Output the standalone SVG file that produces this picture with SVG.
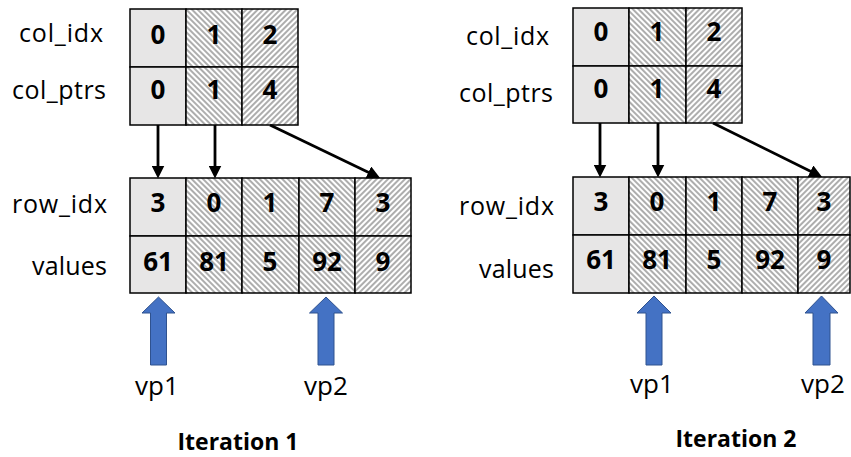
<svg xmlns="http://www.w3.org/2000/svg" width="851" height="457" viewBox="0 0 851 457">
  <style>
    .lbl { font-family: "Open Sans", "Liberation Sans", sans-serif; font-size: 25px; fill: #000; }
    .vp { font-family: "Open Sans", "Liberation Sans", sans-serif; font-size: 26px; fill: #000; text-anchor: middle; }
    .num { font-family: "Open Sans", "Liberation Sans", sans-serif; font-size: 26px; font-weight: bold; fill: #000; text-anchor: middle; }
    .ttl { font-family: "Open Sans", "Liberation Sans", sans-serif; font-size: 23px; font-weight: bold; fill: #000; text-anchor: middle; }
    .plain { fill: #e7e6e6; stroke: #000; stroke-width: 1.5; }
    .hd { fill: url(#hatchDown); stroke: #000; stroke-width: 1.5; }
    .hu { fill: url(#hatchUp); stroke: #000; stroke-width: 1.5; }
    .conn { stroke: #000; stroke-width: 2.8; fill: none; marker-end: url(#head); }
    .ptr { fill: #4472c4; stroke: #2f528f; stroke-width: 1; }
  </style>
  <defs>
    <!-- wide downward diagonal hatch -->
    <pattern id="hatchDown" patternUnits="userSpaceOnUse" width="4" height="4" patternTransform="rotate(-45)">
      <rect width="4" height="4" fill="#fff"/>
      <line x1="1" y1="0" x2="1" y2="4" stroke="#999" stroke-width="1.6"/>
    </pattern>
    <!-- wide upward diagonal hatch -->
    <pattern id="hatchUp" patternUnits="userSpaceOnUse" width="4" height="4" patternTransform="rotate(45)">
      <rect width="4" height="4" fill="#fff"/>
      <line x1="1" y1="0" x2="1" y2="4" stroke="#999" stroke-width="1.6"/>
    </pattern>
    <marker id="head" viewBox="0 0 10 10" refX="6.5" refY="5" markerWidth="13" markerHeight="13" markerUnits="userSpaceOnUse" orient="auto">
      <path d="M0,0 L10,5 L0,10 Z" fill="#000"/>
    </marker>
  </defs>

  <!-- ===== Iteration 1 ===== -->
  <g id="labels-1">
    <text class="lbl" x="19" y="42" textLength="84" lengthAdjust="spacing">col_idx</text>
    <text class="lbl" x="12" y="99" textLength="94" lengthAdjust="spacing">col_ptrs</text>
    <text class="lbl" x="12" y="213" textLength="95" lengthAdjust="spacing">row_idx</text>
    <text class="lbl" x="32" y="275" textLength="75" lengthAdjust="spacing">values</text>
  </g>

  <g id="col-table-1">
    <rect class="plain" x="130" y="9" width="56" height="58"/>
    <rect class="hd" x="186" y="9" width="56" height="58"/>
    <rect class="hu" x="242" y="9" width="56" height="58"/>
    <rect class="plain" x="130" y="67" width="56" height="58"/>
    <rect class="hd" x="186" y="67" width="56" height="58"/>
    <rect class="hu" x="242" y="67" width="56" height="58"/>
    <text class="num" x="158" y="44">0</text>
    <text class="num" x="214" y="44">1</text>
    <text class="num" x="270" y="44">2</text>
    <text class="num" x="158" y="99">0</text>
    <text class="num" x="214" y="99">1</text>
    <text class="num" x="270" y="99">4</text>
  </g>

  <g id="row-table-1">
    <rect class="plain" x="130" y="178" width="56" height="58"/>
    <rect class="hd" x="186" y="178" width="56" height="58"/>
    <rect class="hd" x="242" y="178" width="57" height="58"/>
    <rect class="hd" x="299" y="178" width="56" height="58"/>
    <rect class="hu" x="355" y="178" width="56" height="58"/>
    <rect class="plain" x="130" y="236" width="56" height="57"/>
    <rect class="hd" x="186" y="236" width="56" height="57"/>
    <rect class="hd" x="242" y="236" width="57" height="57"/>
    <rect class="hd" x="299" y="236" width="56" height="57"/>
    <rect class="hu" x="355" y="236" width="56" height="57"/>
    <text class="num" x="158" y="212">3</text>
    <text class="num" x="214" y="212">0</text>
    <text class="num" x="270" y="212">1</text>
    <text class="num" x="327" y="212">7</text>
    <text class="num" x="383" y="212">3</text>
    <text class="num" x="158" y="271">61</text>
    <text class="num" x="214" y="271">81</text>
    <text class="num" x="270" y="271">5</text>
    <text class="num" x="327" y="271">92</text>
    <text class="num" x="383" y="271">9</text>
  </g>

  <g id="vp1-1">
    <path class="ptr" d="M158.5,297 L175,313 L166.5,313 L166.5,365 L150.5,365 L150.5,313 L142,313 Z"/>
    <text class="vp" x="157" y="395">vp1</text>
  </g>
  <g id="vp2-1">
    <path class="ptr" d="M326,297 L342.5,313 L334,313 L334,365 L318,365 L318,313 L309.5,313 Z"/>
    <text class="vp" x="326" y="395">vp2</text>
  </g>

  <g id="title-1">
    <text class="ttl" x="238" y="450">Iteration 1</text>
  </g>

  <!-- ===== Iteration 2 ===== -->
  <g id="labels-2">
    <text class="lbl" x="466" y="45" textLength="83" lengthAdjust="spacing">col_idx</text>
    <text class="lbl" x="459" y="102" textLength="94" lengthAdjust="spacing">col_ptrs</text>
    <text class="lbl" x="459" y="215" textLength="95" lengthAdjust="spacing">row_idx</text>
    <text class="lbl" x="479" y="278" textLength="75" lengthAdjust="spacing">values</text>
  </g>

  <g id="col-table-2">
    <rect class="plain" x="573" y="8" width="56" height="58"/>
    <rect class="hd" x="629" y="8" width="57" height="58"/>
    <rect class="hu" x="686" y="8" width="56" height="58"/>
    <rect class="plain" x="573" y="66" width="56" height="57"/>
    <rect class="hd" x="629" y="66" width="57" height="57"/>
    <rect class="hu" x="686" y="66" width="56" height="57"/>
    <text class="num" x="601" y="41">0</text>
    <text class="num" x="657" y="41">1</text>
    <text class="num" x="714" y="41">2</text>
    <text class="num" x="601" y="98">0</text>
    <text class="num" x="657" y="98">1</text>
    <text class="num" x="714" y="98">4</text>
  </g>

  <g id="row-table-2">
    <rect class="plain" x="573" y="177" width="56" height="58"/>
    <rect class="hd" x="629" y="177" width="57" height="58"/>
    <rect class="hd" x="686" y="177" width="56" height="58"/>
    <rect class="hd" x="742" y="177" width="56" height="58"/>
    <rect class="hu" x="798" y="177" width="52" height="58"/>
    <rect class="plain" x="573" y="235" width="56" height="58"/>
    <rect class="hd" x="629" y="235" width="57" height="58"/>
    <rect class="hd" x="686" y="235" width="56" height="58"/>
    <rect class="hd" x="742" y="235" width="56" height="58"/>
    <rect class="hu" x="798" y="235" width="52" height="58"/>
    <text class="num" x="601" y="211">3</text>
    <text class="num" x="657" y="211">0</text>
    <text class="num" x="714" y="211">1</text>
    <text class="num" x="770" y="211">7</text>
    <text class="num" x="824" y="211">3</text>
    <text class="num" x="601" y="269">61</text>
    <text class="num" x="657" y="269">81</text>
    <text class="num" x="714" y="269">5</text>
    <text class="num" x="770" y="269">92</text>
    <text class="num" x="824" y="269">9</text>
  </g>

  <g id="vp1-2">
    <path class="ptr" d="M654,296 L671,313 L662,313 L662,365 L646,365 L646,313 L637,313 Z"/>
    <text class="vp" x="652" y="393">vp1</text>
  </g>
  <g id="vp2-2">
    <path class="ptr" d="M821.5,296 L838,313 L830,313 L830,365 L813,365 L813,313 L805,313 Z"/>
    <text class="vp" x="823" y="393">vp2</text>
  </g>

  <g id="title-2">
    <text class="ttl" x="736" y="447">Iteration 2</text>
  </g>

  <!-- col_ptrs entries pointing into row_idx -->
  <g id="connectors">
    <path class="conn" d="M158,125 L158,174"/>
    <path class="conn" d="M215,125 L215,174"/>
    <path class="conn" d="M270,125 L376,176"/>
    <path class="conn" d="M600,123 L600,173"/>
    <path class="conn" d="M658,123 L658,173"/>
    <path class="conn" d="M713,123 L818,175"/>
  </g>
</svg>
